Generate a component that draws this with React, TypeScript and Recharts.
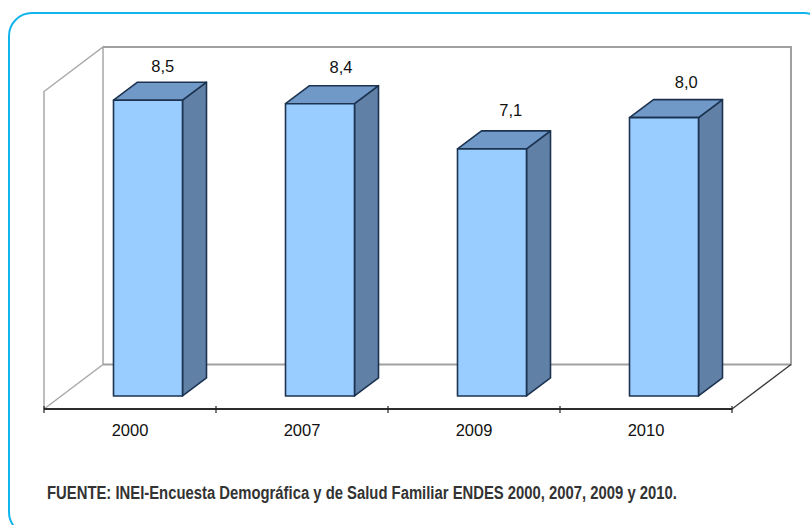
import React from "react"
import { Bar, BarChart, LabelList, XAxis, YAxis, usePlotArea } from "recharts"

const years = ["2000", "2007", "2009", "2010"]
const rates = [8.5, 8.4, 7.1, 8.0]
const source = "FUENTE: INEI-Encuesta Demográfica y de Salud Familiar ENDES 2000, 2007, 2009 y 2010."

const data = years.map((year, i) => ({ year, rate: rates[i] }))

// label placement in the original is uneven, so nudge each one by hand
const labelDx = [14.7, 21, 18.8, 22.3]
const labelDy = [-28.5, -30.5, -33, -29.5]

const BAR_SHIFT = 17.5 // bars sit towards the middle of the 3d floor
const DEPTH_X = 24
const DEPTH_Y = 18
const WALL_X = 59
const WALL_Y = 44.5

const BarBox = (props: any) => {
  const { x, y, width, height } = props
  const left = x + BAR_SHIFT
  const right = left + width
  const bottom = y + height
  const line = { stroke: "#1c3350", strokeWidth: 1.6, strokeLinejoin: "round" as const }
  return (
    <g>
      <polygon
        points={`${right},${y} ${right + DEPTH_X},${y - DEPTH_Y} ${right + DEPTH_X},${bottom - DEPTH_Y} ${right},${bottom}`}
        fill="#6080a6"
        {...line}
      />
      <polygon
        points={`${left},${y} ${left + DEPTH_X},${y - DEPTH_Y} ${right + DEPTH_X},${y - DEPTH_Y} ${right},${y}`}
        fill="#7099c8"
        {...line}
      />
      <rect x={left} y={y} width={width} height={height} fill="#99ccff" {...line} />
    </g>
  )
}

const Walls = () => {
  const plot = usePlotArea()
  if (!plot) return null
  const l = plot.x
  const r = plot.x + plot.width
  const t = plot.y
  const b = plot.y + plot.height
  const backT = t - WALL_Y
  const backB = b - WALL_Y
  return (
    <g fill="none">
      <g stroke="#a8a8a8" strokeWidth={1.5}>
        <polyline points={`${l},${b} ${l},${t} ${l + WALL_X},${backT} ${l + WALL_X},${backB}`} />
        <line x1={l} y1={b} x2={l + WALL_X} y2={backB} />
      </g>
      <polyline
        points={`${l + WALL_X},${backB} ${r + WALL_X},${backB} ${r + WALL_X},${backT} ${l + WALL_X},${backT}`}
        stroke="#a0a0a0"
        strokeWidth={2}
      />
      <line x1={r} y1={b} x2={r + WALL_X} y2={backB} stroke="#3a3a3a" strokeWidth={1.3} />
    </g>
  )
}

const YearTick = (props: any) => {
  const { x, y, index, payload } = props
  const plot = usePlotArea()
  const half = plot ? plot.width / years.length / 2 : 0
  const axisY = plot ? plot.y + plot.height : y
  const mark = (at: number) => <line x1={at} y1={axisY - 3} x2={at} y2={axisY + 4} stroke="#222" strokeWidth={1.2} />
  return (
    <g>
      {mark(x - half)}
      {index === years.length - 1 && mark(x + half)}
      <text x={x} y={axisY + 26.5} textAnchor="middle" fontFamily="Liberation Sans" fontSize={16.5} fill="#111">
        {payload.value}
      </text>
    </g>
  )
}

const RateLabel = (props: any) => {
  const { x, y, width, index, value } = props
  return (
    <text
      x={x + BAR_SHIFT + width / 2 + labelDx[index]}
      y={y + labelDy[index]}
      textAnchor="middle"
      fontFamily="Liberation Sans"
      fontSize={16.5}
      fill="#111"
    >
      {String(value.toFixed(1)).replace(".", ",")}
    </text>
  )
}

export default function App() {
  return (
    <div style={{ position: "absolute", left: 0, top: 0, width: 810, height: 525, overflow: "hidden", background: "#fff" }}>
      <div
        style={{
          position: "absolute",
          left: 8,
          top: 12,
          width: 820,
          height: 524,
          border: "2px solid #12b4ec",
          borderRadius: 24,
          boxSizing: "border-box",
        }}
      />
      <div style={{ position: "absolute", left: 0, top: 0 }}>
        <BarChart
          width={810}
          height={525}
          data={data}
          barSize={69}
          margin={{ top: 91.5, right: 78, bottom: 86, left: 44 }}
        >
          <Walls />
          <XAxis
            dataKey="year"
            height={30}
            interval={0}
            axisLine={{ stroke: "#2c2c2c", strokeWidth: 2 }}
            tickLine={false}
            tick={<YearTick />}
          />
          <YAxis hide domain={[-0.375, 8.75]} />
          <Bar dataKey="rate" shape={<BarBox />} isAnimationActive={false}>
            <LabelList dataKey="rate" content={<RateLabel />} />
          </Bar>
          <text
            x={47}
            y={499}
            fontFamily="Liberation Sans"
            fontWeight="bold"
            fontSize={17.5}
            fill="#333"
            textLength={630}
            lengthAdjust="spacingAndGlyphs"
          >
            {source}
          </text>
        </BarChart>
      </div>
    </div>
  )
}
